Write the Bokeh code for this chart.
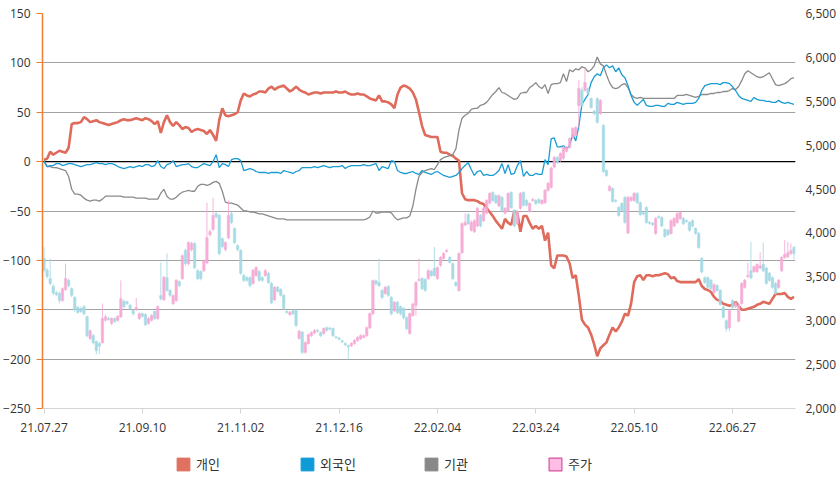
import numpy as np
from bokeh.plotting import figure
from bokeh.layouts import column
from bokeh.models import (Range1d, LinearAxis, FixedTicker, NumeralTickFormatter,
                          Span, Legend, LegendItem)
from bokeh.embed import file_html
from bokeh.resources import INLINE

# ---------------- data ----------------
DATE_LABELS = ["21.07.27", "21.09.10", "21.11.02", "21.12.16",
               "22.02.04", "22.03.24", "22.05.10", "22.06.27"]
LABEL_STEP = 32
LEFT_TICKS = [-250, -200, -150, -100, -50, 0, 50, 100, 150]
RIGHT_TICKS = [2000, 2500, 3000, 3500, 4000, 4500, 5000, 5500, 6000, 6500]

# 개인 (individual)
individual = [
    2, 3, 10, 7, 9, 11, 10, 9, 14, 38,
    39, 39, 40, 45, 43, 40, 41, 42, 40, 39,
    38, 37, 38, 39, 40, 42, 43, 42, 42, 43,
    44, 43, 42, 44, 43, 41, 38, 41, 29, 40,
    47, 40, 36, 40, 37, 33, 35, 34, 30, 32,
    33, 32, 31, 28, 32, 27, 21, 42, 54, 47,
    46, 47, 48, 50, 62, 69, 67, 66, 68, 69,
    71, 71, 70, 74, 76, 73, 75, 76, 77, 74,
    71, 73, 76, 73, 71, 70, 68, 69, 70, 70,
    69, 70, 70, 70, 70, 71, 70, 70, 71, 69,
    68, 68, 69, 68, 68, 66, 64, 63, 62, 67,
    61, 61, 60, 58, 54, 68, 75, 77, 76, 74,
    70, 63, 50, 36, 27, 26, 25, 25, 25, 10,
    9, 9, 7, 6, 3, 1, -32, -38, -39, -39,
    -39, -40, -42, -43, -47, -51, -55, -60, -64, -68,
    -58, -62, -64, -50, -52, -71, -55, -55, -62, -68,
    -65, -68, -65, -80, -72, -105, -108, -95, -95, -95,
    -96, -103, -118, -115, -136, -160, -165, -168, -175, -185,
    -197, -189, -186, -183, -175, -168, -172, -168, -162, -154,
    -156, -144, -122, -116, -115, -120, -115, -115, -116, -115,
    -115, -114, -113, -114, -118, -117, -121, -122, -122, -122,
    -122, -122, -122, -119, -126, -129, -130, -132, -137, -140,
    -141, -144, -145, -146, -145, -142, -146, -150, -150, -149,
    -148, -147, -145, -144, -142, -143, -144, -139, -134, -134,
    -134, -133, -137, -139, -137]

# 외국인 (foreigner)
foreigner = [
    0, -5, -4, -4, -2, -2, -4, -3, -2, -2,
    -3, -4, -5, -4, -3, -3, -2, -1, -2, -2,
    -3, -2, -2, -3, -5, -6, -7, -6, -5, -6,
    -5, -4, -5, -3, -3, -5, -4, 1, -5, -7,
    -3, -2, 1, -5, -4, -3, -3, -2, -5, -6,
    -6, -4, -2, -3, -4, 0, 7, -6, -2, -3,
    -5, 2, 3, 3, 1, -9, -8, -7, -8, -10,
    -11, -11, -11, -12, -11, -11, -11, -12, -9, -10,
    -11, -12, -10, -9, -6, -6, -6, -6, -5, -6,
    -5, -4, -5, -6, -5, -5, -5, -4, -7, -5,
    -4, -4, -4, -4, -3, -4, -4, -3, -2, -9,
    -5, -6, -7, 1, 0, -9, -11, -12, -12, -11,
    -10, -12, -13, -9, -11, -12, -13, -11, -10, -12,
    -14, -15, -16, -15, -14, -11, -7, -4, -1, -8,
    -14, -10, -9, -14, -13, -14, -14, -12, -9, -2,
    -12, -3, -13, -12, -4, 1, -15, -10, -14, -14,
    -12, -13, -13, 2, -3, 23, 24, 15, 15, 16,
    13, 16, 28, 21, 36, 58, 63, 68, 80, 86,
    89, 87, 95, 98, 95, 97, 91, 95, 88, 85,
    77, 67, 60, 57, 60, 63, 57, 56, 56, 57,
    57, 56, 56, 59, 58, 58, 60, 59, 58, 59,
    59, 59, 60, 64, 72, 77, 78, 79, 79, 79,
    78, 80, 80, 79, 76, 72, 67, 64, 63, 62,
    61, 65, 63, 62, 62, 61, 61, 60, 60, 62,
    60, 59, 60, 59, 58]

# 기관 (institution)
institution = [
    1, -5, -5, -6, -6, -7, -8, -9, -15, -28,
    -33, -33, -34, -37, -39, -40, -39, -39, -40, -38,
    -35, -35, -35, -35, -35, -35, -36, -36, -36, -36,
    -37, -37, -37, -37, -38, -38, -38, -38, -32, -28,
    -35, -38, -38, -36, -33, -31, -30, -29, -30, -30,
    -25, -23, -23, -24, -23, -21, -20, -22, -30, -41,
    -42, -42, -43, -44, -47, -50, -50, -51, -51, -52,
    -53, -53, -54, -55, -56, -57, -58, -58, -58, -59,
    -59, -59, -59, -59, -59, -59, -59, -59, -59, -59,
    -59, -59, -59, -59, -59, -59, -59, -59, -59, -59,
    -59, -59, -59, -59, -59, -58, -56, -50, -52, -52,
    -51, -51, -51, -52, -56, -59, -58, -57, -57, -55,
    -45, -28, -15, -11, -9, -8, -7, -8, -3, 2,
    4, 5, 6, 7, 13, 32, 44, 47, 49, 53,
    54, 54, 57, 58, 60, 64, 68, 71, 75, 70,
    69, 67, 65, 63, 64, 69, 70, 70, 75, 77,
    80, 76, 74, 78, 69, 78, 79, 79, 80, 89,
    81, 93, 91, 94, 93, 96, 95, 91, 93, 97,
    106, 99, 97, 88, 80, 75, 74, 75, 78, 79,
    75, 68, 65, 64, 65, 64, 64, 64, 64, 64,
    64, 64, 64, 64, 64, 64, 67, 67, 67, 68,
    67, 66, 65, 66, 68, 68, 68, 69, 69, 70,
    70, 71, 71, 72, 74, 73, 76, 82, 89, 92,
    90, 88, 86, 85, 86, 88, 90, 84, 78, 77,
    78, 79, 81, 84, 85]

# 주가 (stock price) candles
price_open = [
    3710, 3575, 3480, 3390, 3320, 3310, 3230, 3355, 3460, 3365,
    3265, 3150, 3140, 3160, 3045, 2800, 2830, 2760, 2740, 2750,
    3005, 3025, 2970, 3025, 3005, 3045, 3220, 3215, 3175, 3115,
    3125, 3025, 3080, 3070, 2970, 3005, 3105, 3025, 3285, 3240,
    3490, 3345, 3195, 3230, 3445, 3480, 3800, 3650, 3810, 3880,
    3570, 3560, 3570, 3660, 3980, 4040, 4220, 4200, 3935, 3810,
    3945, 4220, 4050, 3855, 3800, 3515, 3490, 3490, 3425, 3515,
    3560, 3490, 3515, 3540, 3425, 3240, 3380, 3355, 3290, 3105,
    3070, 3115, 3115, 2800, 2870, 2640, 2740, 2830, 2860, 2890,
    2865, 2855, 2920, 2915, 2910, 2815, 2800, 2770, 2740, 2715,
    2715, 2740, 2775, 2795, 2810, 2830, 2920, 3080, 3455, 3435,
    3345, 3310, 3390, 3265, 3115, 3210, 3160, 3140, 3035, 2855,
    3060, 3175, 3460, 3480, 3470, 3480, 3565, 3595, 3480, 3630,
    3710, 3790, 3720, 3650, 3435, 3345, 3775, 4090, 4210, 4030,
    4015, 4080, 4200, 4140, 4225, 4340, 4460, 4425, 4310, 4405,
    4225, 4255, 4460, 4255, 4105, 4280, 4460, 4370, 4245, 4370,
    4370, 4380, 4335, 4345, 4485, 4520, 4750, 4860, 4825, 4850,
    4930, 4975, 5085, 5110, 5450, 5625, 5625, 5645, 5530, 5385,
    5530, 5360, 5225, 4710, 4485, 4505, 4370, 4290, 4335, 4405,
    4000, 4370, 4370, 4450, 4345, 4230, 4290, 4120, 4110, 3995,
    4185, 4175, 4040, 4030, 3995, 4080, 4120, 4165, 4165, 4140,
    4120, 4140, 4050, 3995, 3710, 3490, 3490, 3460, 3320, 3400,
    3345, 3155, 3000, 2920, 3230, 3160, 2995, 3195, 3380, 3505,
    3570, 3560, 3560, 3600, 3640, 3600, 3540, 3490, 3425, 3380,
    3570, 3720, 3730, 3765, 3835]

price_close = [
    3575, 3505, 3425, 3315, 3300, 3230, 3365, 3480, 3400, 3290,
    3125, 3095, 3105, 3080, 2830, 2885, 2750, 2660, 2710, 3025,
    3045, 3015, 3025, 2990, 3050, 3250, 3160, 3195, 3140, 3080,
    3150, 3080, 3050, 2955, 3025, 3060, 3025, 3160, 3250, 3495,
    3345, 3290, 3285, 3460, 3400, 3740, 3650, 3890, 3880, 3605,
    3480, 3480, 3685, 3945, 4015, 4200, 4185, 3765, 3845, 3890,
    4200, 4120, 3890, 3810, 3540, 3460, 3460, 3400, 3575, 3605,
    3460, 3460, 3570, 3435, 3205, 3380, 3335, 3290, 3140, 3095,
    3095, 3080, 2945, 2880, 2640, 2750, 2840, 2865, 2890, 2880,
    2830, 2910, 2890, 2905, 2830, 2810, 2790, 2760, 2725, 2700,
    2740, 2775, 2810, 2830, 2830, 2920, 3080, 3455, 3420, 3400,
    3265, 3380, 3290, 3080, 3210, 3095, 3080, 3035, 2910, 3080,
    3190, 3435, 3470, 3365, 3345, 3570, 3515, 3515, 3605, 3720,
    3765, 3800, 3665, 3480, 3400, 3765, 4105, 4120, 4105, 4120,
    4140, 4280, 4080, 4280, 4370, 4450, 4370, 4345, 4425, 4255,
    4280, 4450, 4290, 4080, 4245, 4450, 4315, 4315, 4335, 4380,
    4335, 4345, 4370, 4485, 4565, 4740, 4860, 4800, 4905, 4975,
    4975, 5075, 5190, 5200, 5645, 5450, 5715, 5590, 5430, 5360,
    5260, 5510, 4700, 4655, 4530, 4360, 4360, 4200, 4255, 4120,
    4405, 4405, 4450, 4345, 4210, 4215, 4120, 4110, 4095, 4165,
    4175, 4080, 3960, 3980, 4140, 4165, 4220, 4235, 4105, 4130,
    4030, 4080, 3995, 3835, 3555, 3435, 3380, 3365, 3410, 3345,
    3185, 3040, 2910, 3115, 3150, 3205, 3175, 3425, 3460, 3515,
    3490, 3615, 3640, 3625, 3570, 3425, 3460, 3380, 3310, 3460,
    3720, 3755, 3775, 3800, 3765]

price_high = [
    3835, 3600, 3710, 3420, 3340, 3330, 3380, 3650, 3480, 3380,
    3280, 3170, 3160, 3180, 3060, 2900, 2850, 2775, 2760, 3195,
    3070, 3045, 3040, 3040, 3065, 3460, 3240, 3230, 3190, 3130,
    3260, 3095, 3095, 3085, 3040, 3075, 3120, 3175, 3665, 3510,
    3765, 3360, 3300, 3475, 3460, 3755, 3820, 3905, 3900, 3895,
    3590, 3575, 3700, 4345, 4040, 4400, 4240, 4215, 3950, 3905,
    4370, 4240, 4065, 3870, 3815, 3535, 3510, 3505, 3590, 3620,
    3580, 3510, 3590, 3555, 3440, 3395, 3395, 3370, 3300, 3120,
    3110, 3130, 3130, 2895, 2885, 2765, 2855, 2880, 2905, 2905,
    2880, 2925, 2935, 2930, 2925, 2830, 2815, 2785, 2755, 2730,
    2755, 2790, 2825, 2845, 2845, 2935, 3095, 3470, 3470, 3710,
    3360, 3395, 3405, 3280, 3225, 3225, 3175, 3155, 3050, 3095,
    3205, 3450, 3710, 3495, 3485, 3590, 3580, 3840, 3620, 3735,
    3780, 3815, 3735, 3665, 3450, 3780, 4120, 4225, 4225, 4145,
    4155, 4295, 4215, 4295, 4385, 4465, 4475, 4440, 4440, 4420,
    4295, 4465, 4475, 4270, 4260, 4465, 4475, 4385, 4350, 4395,
    4385, 4395, 4385, 4500, 4580, 4755, 4875, 4875, 4920, 4990,
    4990, 5090, 5205, 5215, 5740, 5660, 5875, 5660, 5545, 5400,
    5545, 5525, 5240, 4725, 4545, 4520, 4385, 4305, 4350, 4420,
    4420, 4420, 4465, 4465, 4360, 4245, 4305, 4135, 4125, 4180,
    4200, 4190, 4055, 4045, 4155, 4180, 4235, 4250, 4180, 4155,
    4135, 4155, 4065, 4010, 3725, 3505, 3505, 3475, 3425, 3415,
    3360, 3170, 3015, 3130, 3245, 3220, 3190, 3440, 3475, 3660,
    3900, 3630, 3655, 3780, 3890, 3615, 3555, 3505, 3440, 3475,
    3735, 3920, 3900, 3880, 3850]

price_low = [
    3550, 3480, 3400, 3290, 3280, 3200, 3215, 3340, 3380, 3270,
    3100, 3080, 3090, 3060, 2810, 2780, 2730, 2615, 2620, 2740,
    2990, 3000, 2950, 2975, 2990, 3030, 3140, 3180, 3120, 3060,
    3110, 3010, 3035, 2940, 2955, 2990, 3010, 3010, 3230, 3225,
    3330, 3270, 3180, 3215, 3380, 3465, 3630, 3630, 3790, 3585,
    3460, 3460, 3555, 3645, 3960, 4020, 4165, 3745, 3825, 3790,
    3930, 4100, 3875, 3790, 3520, 3440, 3440, 3380, 3410, 3500,
    3445, 3440, 3500, 3420, 3190, 3225, 3320, 3275, 3120, 3080,
    3055, 3065, 2930, 2785, 2620, 2625, 2725, 2815, 2845, 2865,
    2815, 2840, 2875, 2890, 2815, 2795, 2775, 2745, 2710, 2560,
    2700, 2725, 2760, 2780, 2800, 2815, 2905, 3065, 3400, 3385,
    3245, 3295, 3270, 3060, 3100, 3075, 3060, 3015, 2890, 2840,
    3045, 3060, 3445, 3350, 3330, 3465, 3500, 3500, 3465, 3615,
    3695, 3775, 3650, 3465, 3385, 3330, 3760, 4075, 4090, 4015,
    4000, 4065, 4065, 4125, 4210, 4325, 4355, 4330, 4295, 4240,
    4210, 4240, 4275, 4065, 4090, 4265, 4300, 4300, 4230, 4355,
    4320, 4330, 4320, 4330, 4470, 4505, 4735, 4785, 4810, 4835,
    4915, 4960, 5070, 5095, 5200, 5435, 5610, 5575, 5415, 5345,
    5245, 5345, 4685, 4640, 4470, 4345, 4345, 4185, 4240, 4105,
    3985, 4355, 4355, 4330, 4195, 4200, 4105, 4095, 4080, 3980,
    4160, 4065, 3945, 3965, 3980, 4065, 4105, 4150, 4090, 4115,
    4015, 4065, 3980, 3820, 3540, 3420, 3365, 3350, 3305, 3330,
    3170, 3025, 2880, 2880, 3135, 3145, 2980, 3180, 3365, 3490,
    3475, 3545, 3545, 3585, 3555, 3410, 3445, 3365, 3295, 3365,
    3555, 3705, 3715, 3750, 3700]

SERIES_NAMES = ["개인", "외국인", "기관", "주가"]

# ---------------- styling ----------------
COL_IND = "#de6b5b"
COL_FOR = "#1b9bd3"
COL_INS = "#8a8a8a"
COL_UP = "#f5a8d3"
COL_DN = "#a2d8e4"
AX_FONT = "Open Sans"

n = min(len(individual), len(foreigner), len(institution), len(price_open),
        len(price_close), len(price_high), len(price_low))
idx = np.arange(n)

p = figure(width=840, height=440, output_backend="svg", toolbar_location=None,
           x_range=Range1d(-0.5, n - 0.5), y_range=Range1d(-250, 150),
           min_border_left=39, min_border_right=45, min_border_top=13,
           min_border_bottom=32)
p.outline_line_color = None
p.extra_y_ranges = {"price": Range1d(2000, 6500)}

# left axis
ya = p.yaxis[0]
ya.ticker = FixedTicker(ticks=LEFT_TICKS)
ya.axis_line_color = "#ed7d31"
ya.axis_line_width = 1.5
ya.major_tick_line_color = "#ed7d31"
ya.major_tick_out = 6
ya.major_tick_in = 0
ya.minor_tick_line_color = None
ya.major_label_standoff = 6
ya.major_label_text_font = AX_FONT
ya.major_label_text_font_size = "12px"
ya.major_label_text_color = "#333333"

# bottom axis
xa = p.xaxis[0]
xa.ticker = FixedTicker(ticks=[k * LABEL_STEP for k in range(len(DATE_LABELS))])
xa.major_label_overrides = {k * LABEL_STEP: lab for k, lab in enumerate(DATE_LABELS)}
xa.axis_line_color = "#d4d4d4"
xa.major_tick_line_color = "#d4d4d4"
xa.major_tick_out = 5
xa.major_tick_in = 0
xa.minor_tick_line_color = None
xa.major_label_standoff = 9
xa.major_label_text_font = AX_FONT
xa.major_label_text_font_size = "12px"
xa.major_label_text_color = "#333333"

# right axis (price)
ra = LinearAxis(y_range_name="price", ticker=FixedTicker(ticks=RIGHT_TICKS),
                formatter=NumeralTickFormatter(format="0,0"))
ra.axis_line_color = None
ra.major_tick_line_color = None
ra.minor_tick_line_color = None
ra.major_tick_out = 0
ra.major_tick_in = 0
ra.major_label_standoff = 10
ra.major_label_text_font = AX_FONT
ra.major_label_text_font_size = "12px"
ra.major_label_text_color = "#333333"
p.add_layout(ra, "right")

# grid
p.xgrid.visible = False
p.ygrid.ticker = FixedTicker(ticks=LEFT_TICKS)
p.ygrid.grid_line_color = "#a3a3a3"
p.ygrid.grid_line_width = 1
p.add_layout(Span(location=0, dimension="width", line_color="black",
                  line_width=1.3, level="underlay"))

# lines
p.line(idx, individual[:n], line_color=COL_IND, line_width=2.6)
p.line(idx, institution[:n], line_color=COL_INS, line_width=1.3)
p.line(idx, foreigner[:n], line_color=COL_FOR, line_width=1.3)

# candles
o = np.array(price_open[:n], dtype=float)
c = np.array(price_close[:n], dtype=float)
h = np.maximum(np.array(price_high[:n], dtype=float), np.maximum(o, c))
l = np.minimum(np.array(price_low[:n], dtype=float), np.minimum(o, c))
cols = [COL_UP if cc >= oo else COL_DN for oo, cc in zip(o, c)]
p.segment(x0=idx, y0=h, x1=idx, y1=l, line_color=cols, line_width=1,
          line_alpha=0.85, y_range_name="price")
p.vbar(x=idx, width=0.78, top=np.maximum(o, c), bottom=np.minimum(o, c),
       fill_color=cols, line_color=cols, fill_alpha=0.85, line_alpha=0.9,
       line_width=0.6, y_range_name="price")

# legend strip (separate figure below the chart); proxy glyphs hold no visible data
pl = figure(width=840, height=40, output_backend="svg", toolbar_location=None,
            x_range=Range1d(0, 1), y_range=Range1d(0, 1),
            x_axis_type=None, y_axis_type=None, min_border=0)
pl.outline_line_color = None
pl.grid.visible = False
nan = [np.nan]
r_ind = pl.quad(left=nan, right=nan, top=nan, bottom=nan, fill_color="#e0705f", line_color="#e0705f")
r_for = pl.quad(left=nan, right=nan, top=nan, bottom=nan, fill_color="#0e9bd8", line_color="#0e9bd8")
r_ins = pl.quad(left=nan, right=nan, top=nan, bottom=nan, fill_color="#888888", line_color="#888888")
r_prc = pl.quad(left=nan, right=nan, top=nan, bottom=nan, fill_color="#ffbde6", line_color="#d8509c",
                line_width=1.2)
legend = Legend(items=[LegendItem(label=SERIES_NAMES[0], renderers=[r_ind]),
                       LegendItem(label=SERIES_NAMES[1], renderers=[r_for]),
                       LegendItem(label=SERIES_NAMES[2], renderers=[r_ins]),
                       LegendItem(label=SERIES_NAMES[3], renderers=[r_prc])],
                orientation="horizontal", location=(133, 7))
legend.glyph_width = 16
legend.glyph_height = 16
legend.label_standoff = 5
legend.label_width = 98
legend.label_height = 16
legend.spacing = 5
legend.padding = 0
legend.margin = 0
legend.border_line_color = None
legend.background_fill_alpha = 0
legend.label_text_font = "Noto Sans CJK KR"
legend.label_text_font_size = "13px"
legend.label_text_color = "#333333"
legend.label_text_align = "left"
legend.label_text_baseline = "middle"
pl.add_layout(legend)

open("out.html", "w").write(file_html(column(p, pl, spacing=0), INLINE, title="chart"))
